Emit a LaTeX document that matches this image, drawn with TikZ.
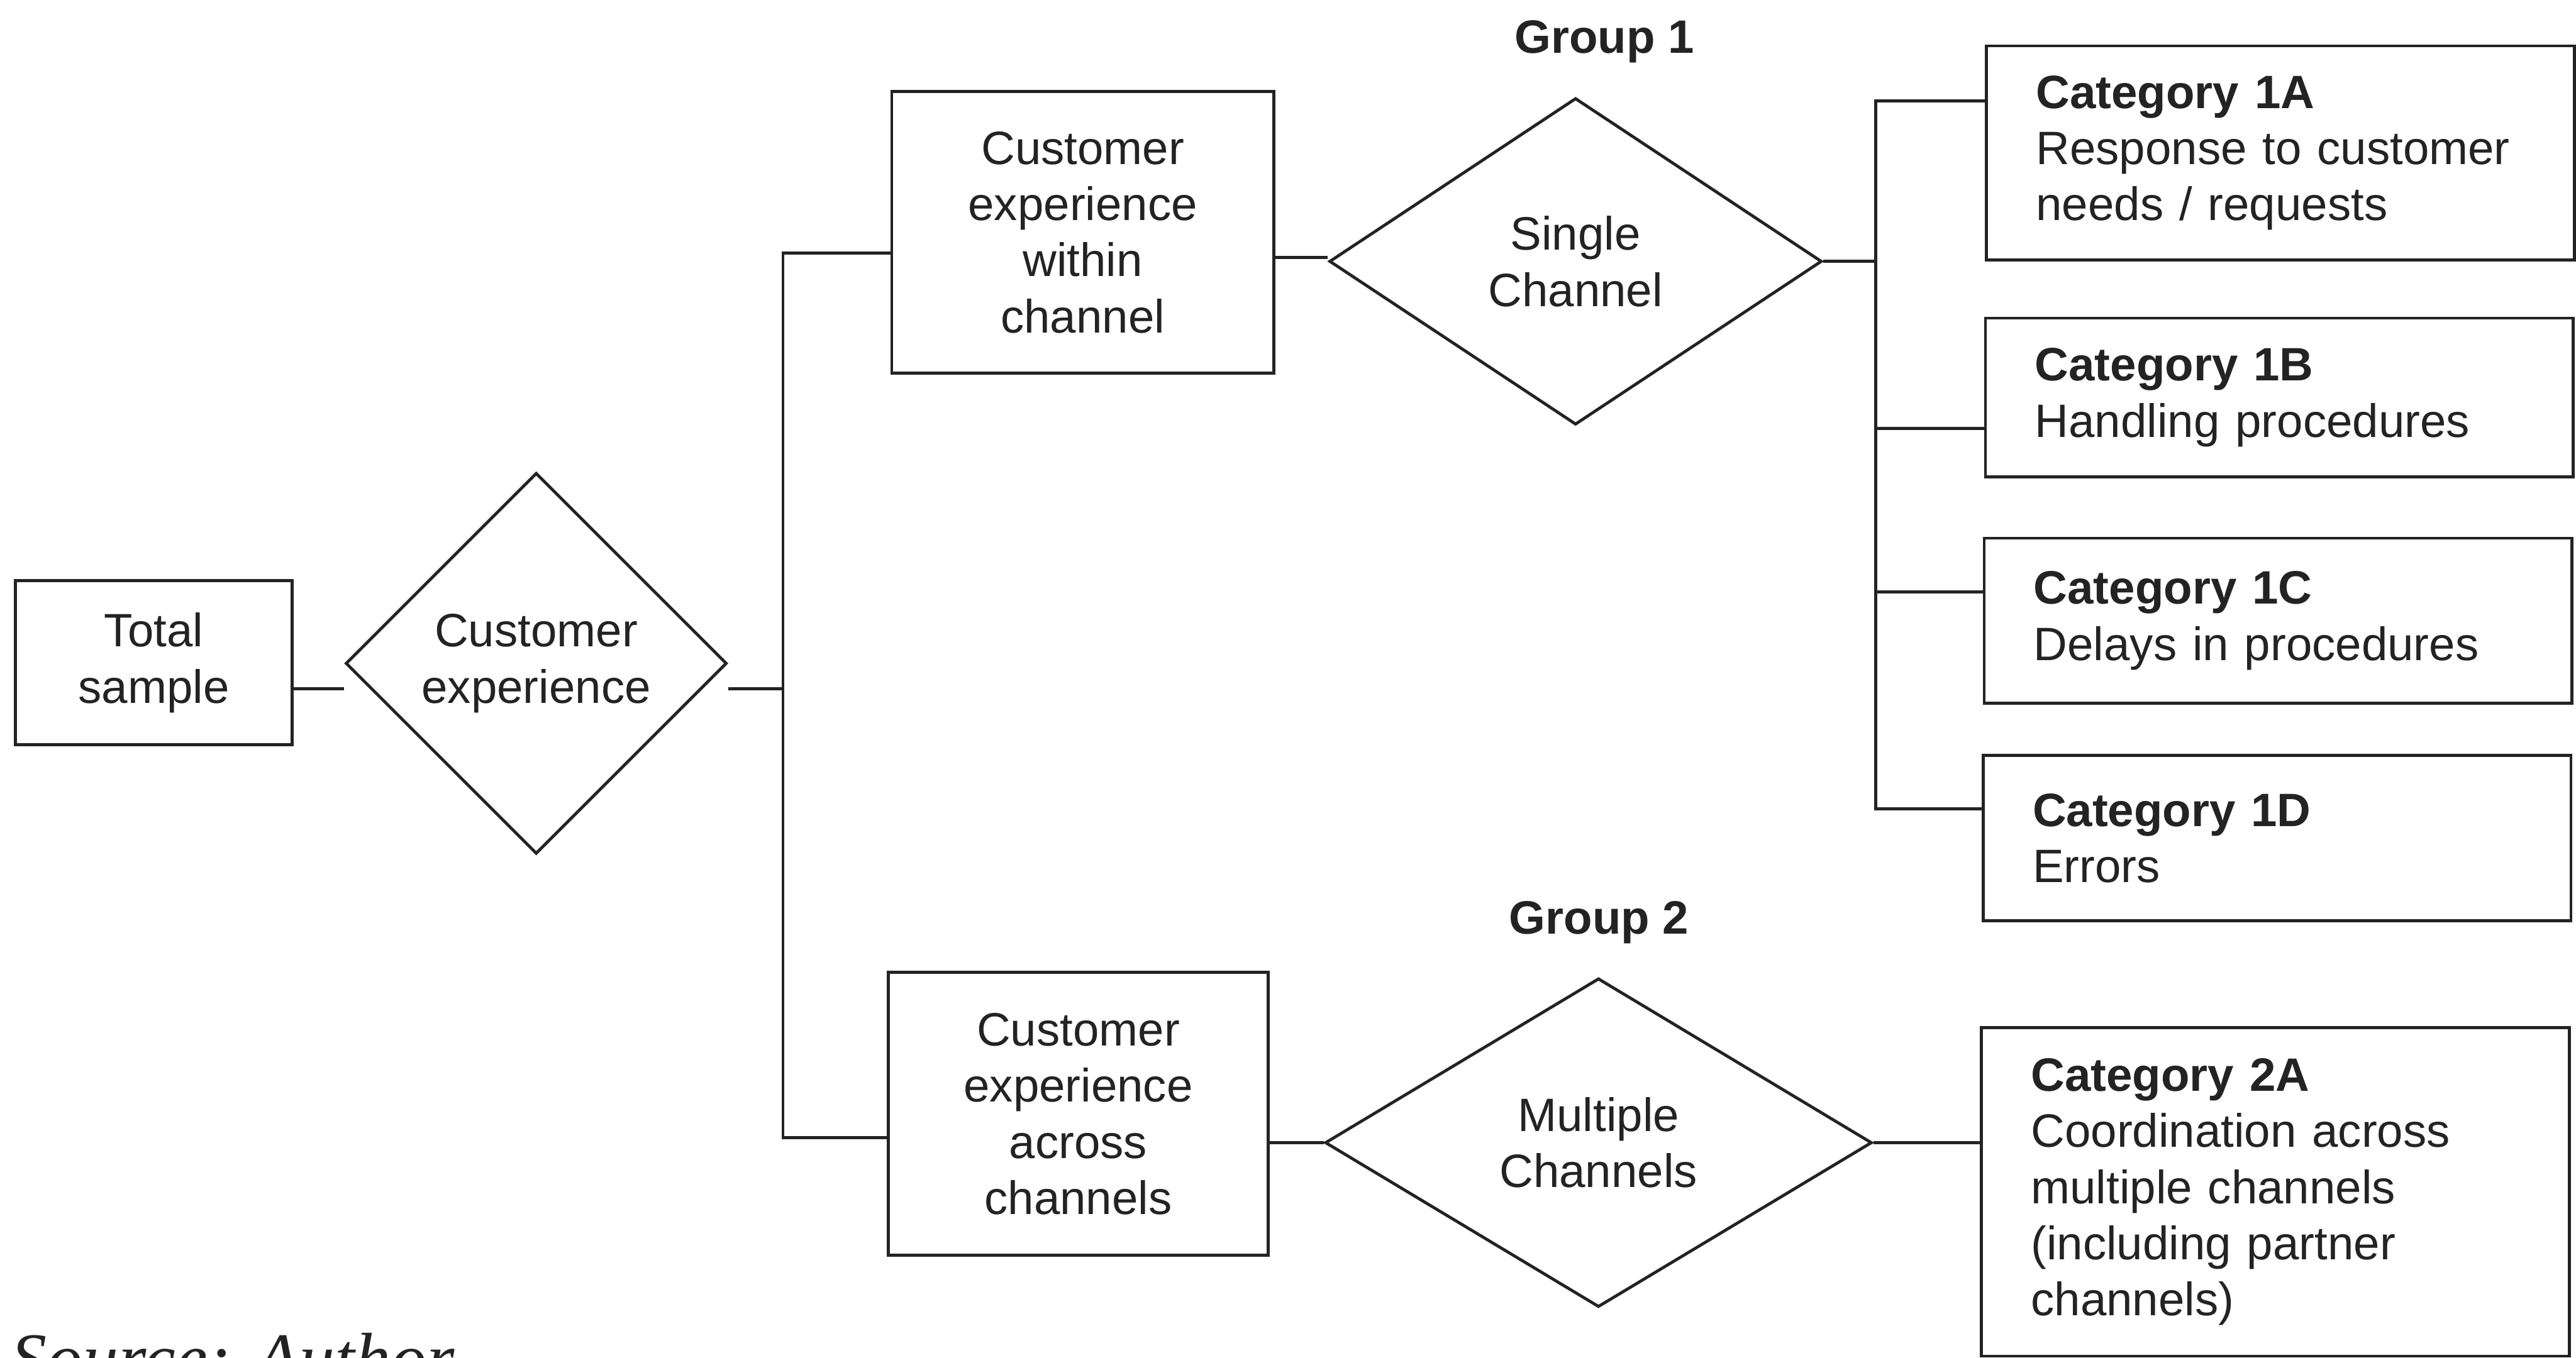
\documentclass[tikz,border=0pt]{standalone}
\usepackage{fontspec}
\setmainfont{Liberation Sans}
\newfontfamily\srcfont{Liberation Serif}
\usetikzlibrary{shapes.geometric}
\definecolor{ink}{HTML}{232323}
\begin{document}
\begin{tikzpicture}[
  color=ink,
  line width=1.6pt,
  every node/.style={font=\fontsize{25}{30}\selectfont},
  box/.style={draw, rectangle, align=center, inner sep=0pt},
  dia/.style={draw, diamond, align=center, inner sep=0pt},
  cat/.style={draw, rectangle, align=left, text width=9.17cm, inner xsep=0.93cm, inner ysep=0pt},
  grp/.style={font=\bfseries\fontsize{25}{30}\selectfont, anchor=base},
  link/.style={line join=miter}
]
% page
\fill[white] (0,0) rectangle (48.33,-25.48);
\useasboundingbox (0,0) rectangle (48.33,-25.48);

% root and first split
\node[box, minimum width=5.19cm, minimum height=3.08cm] (ts) at (2.885,-12.44) {Total\\sample};
\node[dia, minimum width=7.15cm, minimum height=7.15cm] (cx) at (10.06,-12.45) {Customer\\experience};

% channel branches
\node[box, minimum width=7.17cm, minimum height=5.28cm] (wc) at (20.315,-4.36) {Customer\\experience\\within\\channel};
\node[box, minimum width=7.12cm, minimum height=5.31cm] (ac) at (20.23,-20.905) {Customer\\experience\\across\\channels};

\node[dia, minimum width=9.24cm, minimum height=6.13cm] (sc) at (29.56,-4.905) {Single\\Channel};
\node[dia, minimum width=10.26cm, minimum height=6.17cm] (mc) at (29.99,-21.445) {Multiple\\Channels};

\node[grp] (g1) at (30.1,-1.0) {Group 1};
\node[grp] (g2) at (30.0,-17.53) {Group 2};

% categories
\node[cat, minimum height=4.02cm] (c1a) at (42.785,-2.87) {\textbf{Category 1A}\\Response to customer\\needs / requests};
\node[cat, minimum height=2.98cm] (c1b) at (42.765,-7.46) {\textbf{Category 1B}\\Handling procedures};
\node[cat, minimum height=3.10cm] (c1c) at (42.74,-11.65) {\textbf{Category 1C}\\Delays in procedures};
\node[cat, minimum height=3.10cm] (c1d) at (42.72,-15.73) {\textbf{Category 1D}\\Errors};
\node[cat, minimum height=6.16cm] (c2a) at (42.69,-22.37) {\textbf{Category 2A}\\Coordination across\\multiple channels\\(including partner\\channels)};

% connector junctions
\coordinate (l0) at (0,-12.93);
\coordinate (tL1) at (14.69,-4.75);
\coordinate (tL2) at (14.69,-21.35);
\coordinate (m1) at (0,-4.83);
\coordinate (tR1) at (35.19,-1.89);
\coordinate (tR2) at (35.19,-8.04);
\coordinate (tR3) at (35.19,-11.11);
\coordinate (tR4) at (35.19,-15.18);

% connectors
\draw[link] (ts.east |- l0) -- (cx.west |- l0);
\draw[link] (cx.east |- l0) -- (tL1 |- l0);
\draw[link] (wc.west |- tL1) -- (tL1) -- (tL2) -- (ac.west |- tL2);
\draw[link] (wc.east |- m1) -- (sc.west |- m1);
\draw[link] (ac.east |- mc.west) -- (mc.west);
\draw[link] (sc.east) -- (sc.east -| tR1);
\draw[link] (c1a.west |- tR1) -- (tR1) -- (tR4) -- (c1d.west |- tR4);
\draw[link] (tR2) -- (c1b.west |- tR2);
\draw[link] (tR3) -- (c1c.west |- tR3);
\draw[link] (mc.east) -- (mc.east -| c2a.west);

% caption line below the figure
\node[font=\srcfont\itshape\fontsize{38.3}{44}\selectfont, anchor=base west, inner sep=0pt] (src) at (0.18,-25.95) {Source: Author};
\end{tikzpicture}
\end{document}
